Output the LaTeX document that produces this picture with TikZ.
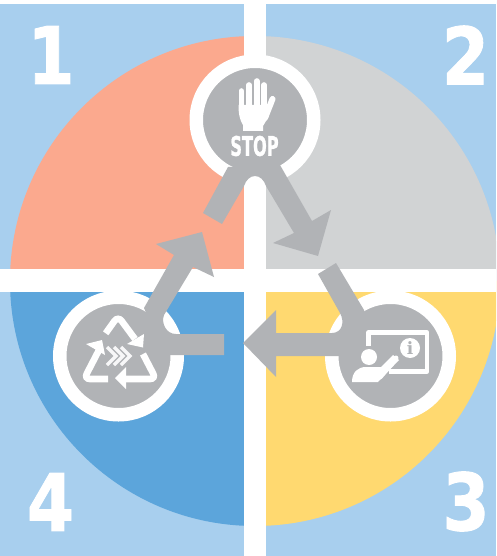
\documentclass[tikz,border=0pt]{standalone}
\usepackage{fontspec}
\setmainfont{DejaVu Sans}
\newfontfamily\letrafont{DejaVu Serif}
\newfontfamily\gruesafont{DejaVu Sans Bold}[FakeBold=1.2]
\definecolor{fondo}{HTML}{A8CFEE}
\definecolor{salmon}{HTML}{FBA98E}
\definecolor{plata}{HTML}{D1D3D4}
\definecolor{oro}{HTML}{FFD970}
\definecolor{azul}{HTML}{5CA5DB}
\definecolor{gris}{HTML}{B1B3B6}
\newcommand{\angosta}[1]{\scalebox{0.86}[1]{#1}}
\tikzset{
  disco/.style={circle,fill=gris,draw=white,line width=13.5pt,minimum size=117.5pt,inner sep=0pt,outer sep=0pt},
  cifra/.style={white,inner sep=0pt,font=\gruesafont\fontsize{79}{79}\selectfont},
  flecha/.style={fill=gris},
  trazo/.style={white,line width=6.6pt},
  punta/.style={fill=white}
}
\begin{document}
\begin{tikzpicture}[x=1pt,y=-1pt]
\useasboundingbox (0,0) rectangle (496,556);
\clip (0,0) rectangle (496,556);
\fill[fondo] (0,4) rectangle (496,556);
\begin{scope}
\clip (255,281) circle [radius=245];
\fill[salmon] (0,0) rectangle (255,281);
\fill[plata] (255,0) rectangle (510,281);
\fill[azul] (0,281) rectangle (255,560);
\fill[oro] (255,281) rectangle (510,560);
\end{scope}
\fill[white] (244,0) rectangle (266,556);
\fill[white] (0,269) rectangle (496,292);
\node[cifra] (uno) at (51,55) {\angosta{1}};
\node[cifra] (dos) at (465.5,55) {\angosta{2}};
\node[cifra] (tres) at (466,501.5) {\angosta{3}};
\node[cifra] (cuatro) at (50.5,502) {\angosta{4}};
\node[disco] (alto) at (255,120) {};
\node[disco] (ciclo) at (118.5,356) {};
\node[disco] (info) at (390.5,356) {};
\fill[flecha] (203,213) -- (222,224) -- (244,186) .. controls (246,180) and (250,176) .. (255,176)
  .. controls (260,176) and (264,180) .. (266,186) -- (294,233) -- (273,243) -- (318,256) -- (331,210)
  -- (312,221) -- (280,165) -- (228,167) -- cycle;
\fill[flecha] (156,244) -- (202,232) -- (214,277) -- (193,267) -- (164,315)
  .. controls (161,323) and (166,334) .. (176,334) -- (224,334) -- (224,355) -- (165,355)
  -- (144,308) -- (174,255) -- cycle;
\fill[flecha] (243,343) -- (276,310) -- (276,333) -- (332,333)
  .. controls (342,333) and (345,322) .. (340,313) -- (318,274) -- (336,263) -- (364,310)
  -- (375,345) -- (345,356) -- (276,356) -- (276,377) -- cycle;
% mano
\foreach \x/\y in {241.3/88,249/82,256.7/78,264/82}{
  \draw[white,line width=5.6pt,line cap=round] (\x,\y+3) -- (\x,108);
}
\draw[white,line width=6pt,line cap=round] (272.5,99) -- (265,118);
\fill[white] (238.5,105) -- (268,105) -- (269,116) -- (263,126) -- (263,131) -- (243,131) -- (243,125)
  .. controls (240,120) and (238.5,115) .. (238.5,105) -- cycle;
\node[white,inner sep=0pt] (lema) at (254.5,146) {\scalebox{0.6}[1]{\gruesafont\fontsize{27}{27}\selectfont STOP}};
% reciclaje
\draw[trazo,rounded corners=6pt] (105.7,333.3) -- (118,316) -- (135,339);
\fill[punta] (144,334) -- (127,344) -- (143,347.5) -- cycle;
\draw[trazo,rounded corners=6pt] (108,379) -- (84,379) -- (99,350);
\fill[punta] (86,344) -- (102,340) -- (105,355) -- cycle;
\draw[trazo,rounded corners=6pt] (143,354) -- (156,379) -- (125,379);
\fill[punta] (115,378) -- (126,367) -- (126,389) -- cycle;
\foreach \x in {107,114,121}{
  \draw[white!90!gris,line width=3.4pt] (\x,347) -- (\x+9,356) -- (\x,365);
}
% pizarra
\draw[white,line width=4.5pt,line join=round] (368.5,346) -- (368.5,332.5) -- (427,332.5) -- (427,371.5) -- (389,371.5);
\node[circle,fill=white,minimum size=20pt,inner sep=0pt] (dato) at (410,348) {};
\node[gris,inner sep=0pt,font=\letrafont\fontsize{17}{17}\selectfont\bfseries] (letra) at (410,348) {i};
\node[circle,fill=white,minimum size=16pt,inner sep=0pt] (cabeza) at (369,357) {};
\fill[white] (352,382) .. controls (352,372) and (358,367) .. (366,367) -- (381,367) -- (393,355) -- (399,360) -- (378,382) -- cycle;
\draw[white,line width=5pt,line cap=round] (380,377) -- (396,358);
\end{tikzpicture}
\end{document}
